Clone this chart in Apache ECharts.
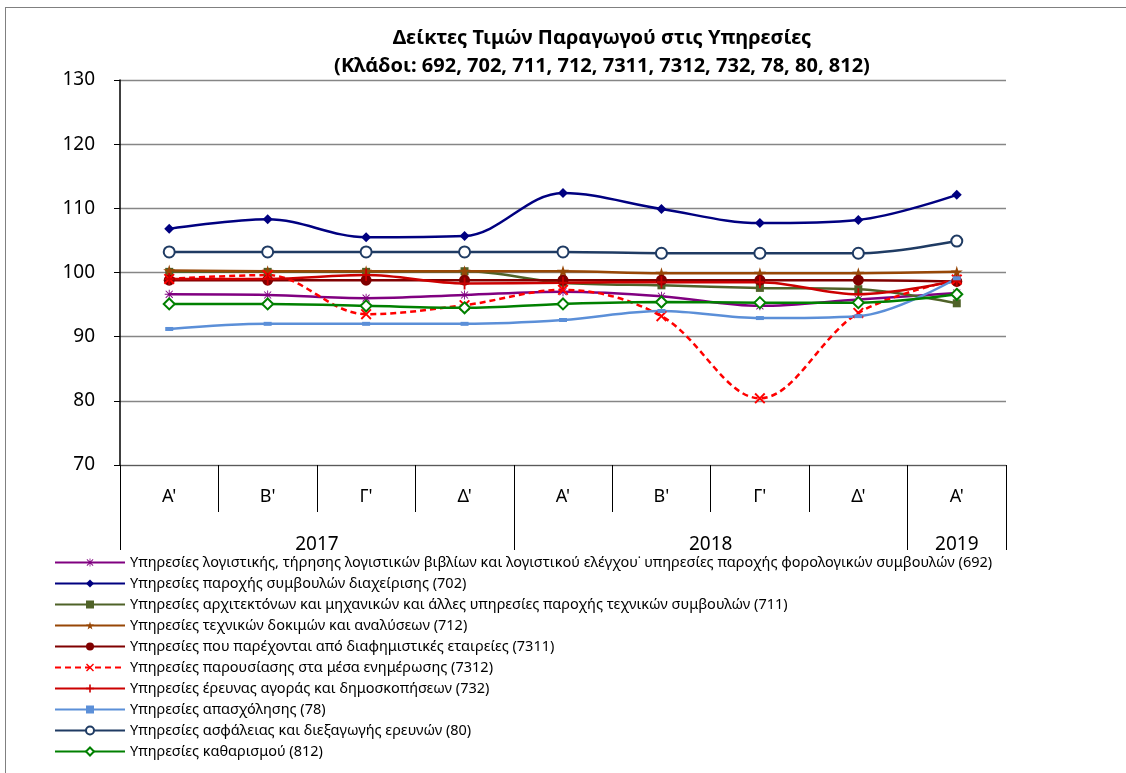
<!DOCTYPE html>
<html>
<head>
<meta charset="utf-8">
<script src="https://cdn.jsdelivr.net/npm/echarts@6/dist/echarts.min.js"></script>
<style>
  html, body { margin: 0; padding: 0; background: #fff; overflow: hidden; }
  #frame { position: absolute; left: 5px; top: 7px; width: 1200px; height: 900px;
           border-left: 1px solid #808080; border-top: 1px solid #808080; }
  #main { position: absolute; left: 0; top: 0; width: 1126px; height: 773px; }
</style>
</head>
<body>
<div id="frame"></div>
<div id="main"></div>
<script>
// τρίμηνα και έτη
var quarters = ["Α'", "Β'", "Γ'", "Δ'", "Α'", "Β'", "Γ'", "Δ'", "Α'"];
var years = ['2017', '2018', '2019'];
var quartersPerYear = [4, 4, 1];

var names = [
    'Υπηρεσίες λογιστικής, τήρησης λογιστικών βιβλίων και λογιστικού ελέγχου˙ υπηρεσίες παροχής φορολογικών συμβουλών (692)',
    'Υπηρεσίες παροχής συμβουλών διαχείρισης (702)',
    'Υπηρεσίες αρχιτεκτόνων και μηχανικών και άλλες υπηρεσίες παροχής τεχνικών συμβουλών (711)',
    'Υπηρεσίες τεχνικών δοκιμών και αναλύσεων (712)',
    'Υπηρεσίες που παρέχονται από διαφημιστικές εταιρείες (7311)',
    'Υπηρεσίες παρουσίασης στα μέσα ενημέρωσης (7312)',
    'Υπηρεσίες έρευνας αγοράς και δημοσκοπήσεων (732)',
    'Υπηρεσίες απασχόλησης (78)',
    'Υπηρεσίες ασφάλειας και διεξαγωγής ερευνών (80)',
    'Υπηρεσίες καθαρισμού (812)'
];

var s692  = [96.6, 96.5, 96.0, 96.5, 97.0, 96.3, 94.8, 95.8, 96.8];
var s702  = [106.8, 108.3, 105.5, 105.7, 112.4, 109.9, 107.7, 108.2, 112.1];
var s711  = [100.1, 100.1, 100.1, 100.2, 98.4, 98.0, 97.6, 97.4, 95.2];
var s712  = [100.3, 100.2, 100.2, 100.2, 100.2, 99.9, 99.9, 99.9, 100.1];
var s7311 = [98.8, 98.8, 98.8, 98.8, 98.8, 98.8, 98.8, 98.8, 98.6];
var s7312 = [99.0, 99.6, 93.5, 94.9, 97.3, 93.2, 80.4, 93.7, 98.9];
var s732  = [99.0, 99.0, 99.6, 98.3, 98.4, 98.5, 98.5, 96.6, 98.7];
var s78   = [91.2, 92.0, 92.0, 92.0, 92.6, 94.0, 92.9, 93.2, 99.1];
var s80   = [103.2, 103.2, 103.2, 103.2, 103.2, 103.0, 103.0, 103.0, 104.9];
var s812  = [95.1, 95.1, 94.8, 94.5, 95.1, 95.4, 95.3, 95.3, 96.6];

var FONT = '"Noto Sans", "DejaVu Sans", sans-serif';

// σύμβολα
var ASTER = 'path://M9,0h2v20h-2z M0,9h20v2h-20z M2.9,1.5L18.5,17.1L17.1,18.5L1.5,2.9z M17.1,1.5L18.5,2.9L2.9,18.5L1.5,17.1z';
var STAR = 'path://M50,0L61,35L98,35L68,57L79,91L50,70L21,91L32,57L2,35L39,35Z';
var CROSS = 'path://M0,2.5L2.5,0L10,7.5L17.5,0L20,2.5L12.5,10L20,17.5L17.5,20L10,12.5L2.5,20L0,17.5L7.5,10Z';
var PLUS = 'path://M4,0h2v5h4v2h-4v5h-2v-5h-4v-2h4z';

// δεύτερος άξονας (έτη): θέσεις σε μισά τρίμηνα
var yearSlots = [], yearTicks = {};
var pos = 0;
for (var i = 0; i < years.length; i++) {
    yearTicks[pos * 2] = true;
    pos += quartersPerYear[i];
}
yearTicks[pos * 2] = true;
for (var k = 0; k <= pos * 2; k++) yearSlots.push('');
pos = 0;
for (var j = 0; j < years.length; j++) {
    yearSlots[pos * 2 + quartersPerYear[j]] = years[j];
    pos += quartersPerYear[j];
}
var slotKeys = yearSlots.map(function (v, idx) { return idx + '|' + v; });

function line(name, data, color, symbol, size, extra) {
    var s = {
        name: name,
        type: 'line',
        data: data,
        smooth: 0.35,
        symbol: symbol,
        symbolSize: size,
        showSymbol: true,
        lineStyle: { color: color, width: 2.5 },
        itemStyle: { color: color },
        emphasis: { disabled: true }
    };
    if (extra) {
        for (var key in extra) s[key] = extra[key];
    }
    return s;
}

var myChart = echarts.init(document.getElementById('main'));
var option = {
    animation: false,
    title: {
        text: 'Δείκτες Τιμών Παραγωγού στις Υπηρεσίες\n(Κλάδοι: 692, 702, 711, 712, 7311, 7312, 732, 78, 80, 812)',
        left: 597,
        top: 19,
        textAlign: 'center',
        textStyle: { fontFamily: FONT, fontSize: 20, fontWeight: 'bold', color: '#000', lineHeight: 28 }
    },
    grid: { left: 120, top: 80, right: 120, bottom: 308, containLabel: false },
    legend: {
        orient: 'vertical',
        left: 54,
        top: 555,
        padding: 0,
        itemWidth: 70,
        itemHeight: 10,
        itemGap: 6,
        textStyle: { fontFamily: FONT, fontSize: 14.5, color: '#000', lineHeight: 14 },
        data: names
    },
    xAxis: [
        {
            type: 'category',
            data: quarters,
            boundaryGap: true,
            axisLine: { lineStyle: { color: '#595959', width: 1 } },
            axisTick: { show: true, interval: 0, length: 47, lineStyle: { color: '#000' } },
            axisLabel: { interval: 0, margin: 23, fontFamily: FONT, fontSize: 18, color: '#000' }
        },
        {
            type: 'category',
            data: slotKeys,
            boundaryGap: false,
            position: 'bottom',
            axisLine: { show: false },
            axisTick: {
                show: true, length: 85, lineStyle: { color: '#000' },
                interval: function (idx) { return !!yearTicks[idx]; }
            },
            axisLabel: {
                interval: 0, margin: 70, fontFamily: FONT, fontSize: 19, color: '#000',
                formatter: function (v) { return v.split('|')[1]; }
            },
            splitLine: { show: false }
        }
    ],
    yAxis: {
        type: 'value',
        min: 70,
        max: 130,
        interval: 10,
        axisLine: { show: true, lineStyle: { color: '#000', width: 1.5 } },
        axisTick: { show: true, length: 6, lineStyle: { color: '#000' } },
        axisLabel: { margin: 25, fontFamily: FONT, fontSize: 19, color: '#000' },
        splitLine: { lineStyle: { color: '#868686', width: 1.3 } }
    },
    series: [
        line(names[0], s692, '#800080', ASTER, 9),
        line(names[1], s702, '#000080', 'diamond', 10),
        line(names[2], s711, '#4F6228', 'rect', 8),
        line(names[3], s712, '#974706', STAR, 12),
        line(names[4], s7311, '#800000', 'circle', 11),
        line(names[5], s7312, '#FF0000', CROSS, 11, {
            lineStyle: { color: '#FF0000', width: 2.5, type: [6, 4] }
        }),
        line(names[6], s732, '#CC0000', PLUS, [9, 12]),
        line(names[7], s78, '#5B8FD8', 'rect', [8, 4]),
        line(names[8], s80, '#1F3B63', 'emptyCircle', 11, {
            itemStyle: { color: '#1F3B63', borderWidth: 2.5 }
        }),
        line(names[9], s812, '#008000', 'emptyDiamond', 11, {
            itemStyle: { color: '#008000', borderWidth: 2.5 }
        })
    ]
};
myChart.setOption(option);
</script>
</body>
</html>
